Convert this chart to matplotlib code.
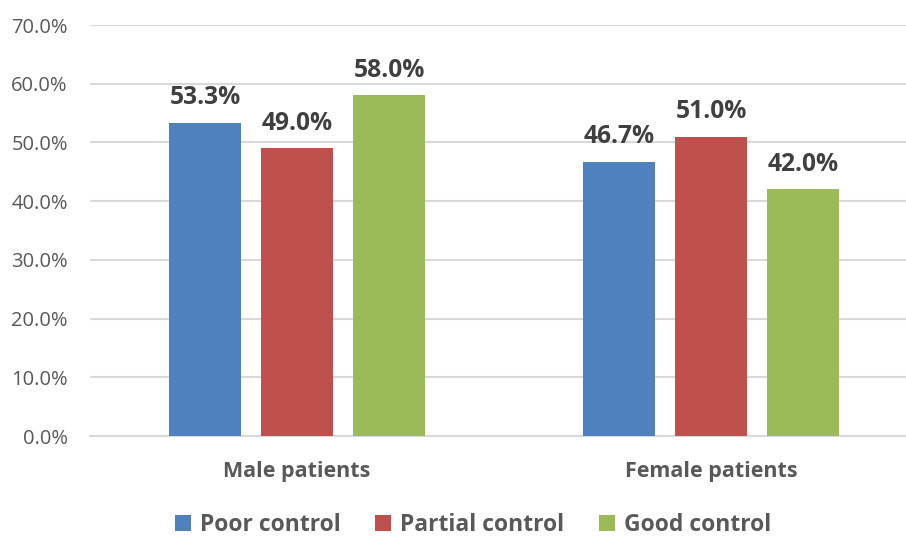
import numpy as np
import matplotlib
matplotlib.use("Agg")
import matplotlib.pyplot as plt
from matplotlib.ticker import PercentFormatter

plt.rcParams['font.family'] = ['Open Sans', 'DejaVu Sans']

groups = ['Male patients', 'Female patients']
series = ['Poor control', 'Partial control', 'Good control']
poor = [53.3, 46.7]
partial = [49.0, 51.0]
good = [58.0, 42.0]
colors = ['#4F81BD', '#C0504D', '#9BBB59']

fig = plt.figure(figsize=(9.06, 5.37), dpi=100)
W, H = 906, 537
ax = fig.add_axes([90 / W, 1 - 436 / H, (906 - 90) / W, (436 - 25) / H])

x = np.arange(len(groups))
width = 72 / 414
step = 92 / 414
for i, (name, vals, c) in enumerate(zip(series, [poor, partial, good], colors)):
    pos = x + (i - 1) * step
    bars = ax.bar(pos, vals, width, color=c, label=name, zorder=3)
    for b, v in zip(bars, vals):
        ax.annotate(f'{v:.1f}%', (b.get_x() + b.get_width() / 2, v),
                    xytext=(0, 13.5), textcoords='offset points',
                    ha='center', va='baseline', fontsize=17.7,
                    fontweight='bold', color='#404040')

ax.set_xlim(-0.5, -0.5 + (906 - 90) / 414)
ax.set_ylim(0, 70)
ax.set_yticks(np.arange(0, 71, 10))
ax.yaxis.set_major_formatter(PercentFormatter(decimals=1))
ax.set_xticks(x)
ax.set_xticklabels(groups, fontsize=15.5, fontweight='bold', color='#595959')
ax.tick_params(axis='y', length=0, pad=16, labelsize=14.5, labelcolor='#595959')
ax.tick_params(axis='x', length=0, pad=18)
ax.grid(axis='y', color='#D9D9D9', linewidth=1.5, zorder=0)
for s in ['top', 'right', 'left']:
    ax.spines[s].set_visible(False)
ax.spines['bottom'].set_color('#D9D9D9')
ax.spines['bottom'].set_linewidth(1.5)

fig.legend(loc='center', bbox_to_anchor=(473 / W, 1 - 525 / H), ncol=3,
           frameon=False, prop={'size': 16.5, 'weight': 'bold'},
           labelcolor='#595959', handlelength=0.7, handleheight=0.7,
           handletextpad=0.4, columnspacing=1.5, borderaxespad=0,
           borderpad=0)

fig.savefig('out.png', dpi=100)
